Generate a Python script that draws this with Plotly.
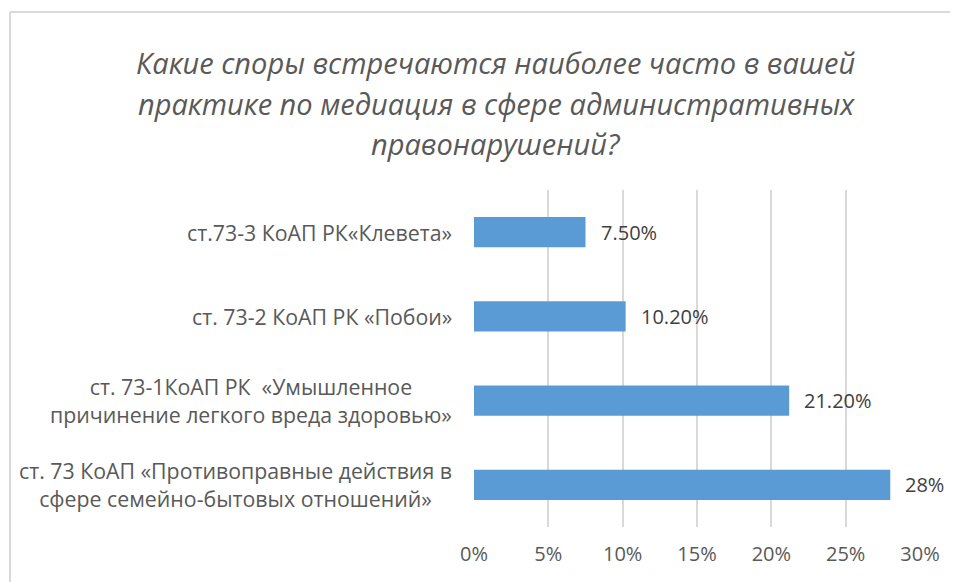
import plotly.graph_objects as go

categories = [
    "ст. 73 КоАП «Противоправные действия в<br>сфере семейно-бытовых отношений»",
    "ст. 73-1КоАП РК \u00a0«Умышленное<br>причинение легкого вреда здоровью»",
    "ст. 73-2 КоАП РК «Побои»",
    "ст.73-3 КоАП РК«Клевета»",
]
values = [0.28, 0.212, 0.102, 0.075]
value_labels = ["28%", "21.20%", "10.20%", "7.50%"]
x_ticks = [0, 0.05, 0.10, 0.15, 0.20, 0.25, 0.30]
title_lines = [
    "Какие споры встречаются наиболее часто в вашей",
    "практике по медиация в сфере административных",
    "правонарушений?",
]
title_line_px = [54, 95, 135]

BAR = "#5B9BD5"
GRAY = "#595959"
DARK = "#404040"
FONT = "Open Sans"

# page body has an 8px default margin; figure size and offsets compensate
W, H = 950, 574
L, T, PW, PH = 466, 182, 446, 337

fig = go.Figure(go.Bar(
    x=values, y=categories, orientation="h",
    marker=dict(color=BAR, line=dict(width=0)),
    hoverinfo="skip",
))

annotations = []
for c, v, lab in zip(categories, values, value_labels):
    annotations.append(dict(x=v, y=c, xref="x", yref="y", text=lab,
                            showarrow=False, xanchor="left", yanchor="middle",
                            xshift=13, font=dict(family=FONT, size=20, color=DARK)))
    annotations.append(dict(x=0, y=c, xref="x", yref="y", text=c,
                            showarrow=False, xanchor="right", yanchor="middle",
                            align="center", xshift=-20,
                            font=dict(family=FONT, size=21.3, color=GRAY)))

for line, ypx in zip(title_lines, title_line_px):
    annotations.append(dict(
        text=line, xref="paper", yref="paper",
        x=(488 - L) / PW, y=(T + PH - ypx) / PH,
        xanchor="center", yanchor="middle", align="center", showarrow=False,
        font=dict(family=FONT, size=29, color=GRAY, style="italic"),
    ))

fig.update_layout(
    width=W, height=H,
    margin=dict(l=L, r=W - L - PW, t=T, b=H - T - PH),
    paper_bgcolor="white", plot_bgcolor="white",
    showlegend=False,
    bargap=0.64,
    xaxis=dict(range=[0, 0.30], tickvals=x_ticks, tickformat=".0%",
               showgrid=True, gridcolor="#D9D9D9", gridwidth=1.5,
               zeroline=False, showline=False, ticks="",
               ticklabelstandoff=13,
               tickfont=dict(family=FONT, size=20, color=GRAY)),
    yaxis=dict(showticklabels=False, showgrid=False, zeroline=False,
               showline=False, ticks=""),
    annotations=annotations,
    shapes=[
        dict(type="line", xref="paper", yref="paper",
             x0=(2 - L) / PW, x1=(W - L) / PW,
             y0=(T + PH - 4) / PH, y1=(T + PH - 4) / PH,
             line=dict(color="#D9D9D9", width=2)),
        dict(type="line", xref="paper", yref="paper",
             x0=(2 - L) / PW, x1=(2 - L) / PW,
             y0=(T + PH - 4) / PH, y1=(T + PH - H) / PH,
             line=dict(color="#D9D9D9", width=2)),
    ],
)

fig.write_html(
    "out.html",
    config={"displayModeBar": False},
    post_script="document.documentElement.style.overflow='hidden';"
                "document.body.style.overflow='hidden';",
)
